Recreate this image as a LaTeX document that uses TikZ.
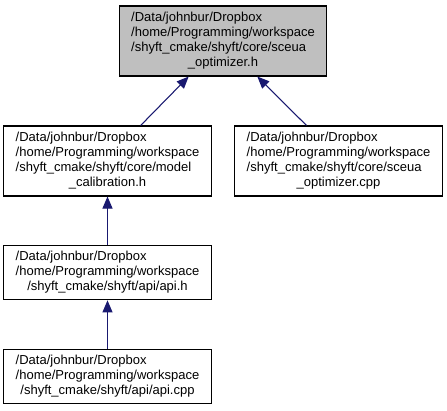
\documentclass[tikz,border=0pt]{standalone}
\usepackage{fontspec}
\setmainfont{Liberation Sans}
\usepackage{xcolor}
\usepackage{tikz}
\usetikzlibrary{arrows.meta}
\definecolor{edgeblue}{HTML}{191970}
\definecolor{boxgray}{HTML}{BFBFBF}
\newcommand{\fpath}[2]{\begin{tabular}{@{}l@{}}#1\\\multicolumn{1}{@{}c@{}}{#2}\end{tabular}}

\begin{document}
\begin{tikzpicture}[
  x=0.75pt, y=-0.75pt,
  every node/.style={font=\fontsize{9.75}{11.25}\selectfont},
  file/.style={rectangle, draw=black, line width=0.8pt, fill=white, inner sep=0pt, minimum width=155.5pt},
  big/.style={file, minimum height=52.5pt},
  small/.style={file, minimum height=41pt},
  incl/.style={-{Triangle[length=9pt, width=7.5pt]}, line width=0.8pt, color=edgeblue}
]
  \useasboundingbox (0,0) rectangle (447,411);

  \node[big, fill=boxgray] (opt)   at (223,41)    {\fpath{/Data/johnbur/Dropbox\\/home/Programming/workspace\\/shyft\_cmake/shyft/core/sceua}{\_optimizer.h}};
  \node[big] (calib)  at (107.5,161) {\fpath{/Data/johnbur/Dropbox\\/home/Programming/workspace\\/shyft\_cmake/shyft/core/model}{\_calibration.h}};
  \node[big] (optcpp) at (338.5,161) {\fpath{/Data/johnbur/Dropbox\\/home/Programming/workspace\\/shyft\_cmake/shyft/core/sceua}{\_optimizer.cpp}};
  \node[small] (apih)   at (107.5,272.5) {\fpath{/Data/johnbur/Dropbox\\/home/Programming/workspace}{/shyft\_cmake/shyft/api/api.h}};
  \node[small] (apicpp) at (107.5,376.5) {\fpath{/Data/johnbur/Dropbox\\/home/Programming/workspace}{/shyft\_cmake/shyft/api/api.cpp}};

  \draw[incl] (calib.47) -- (opt.226);
  \draw[incl] (optcpp.132) -- (opt.-46);
  \draw[incl] (apih) -- (calib);
  \draw[incl] (apicpp) -- (apih);
\end{tikzpicture}
\end{document}
